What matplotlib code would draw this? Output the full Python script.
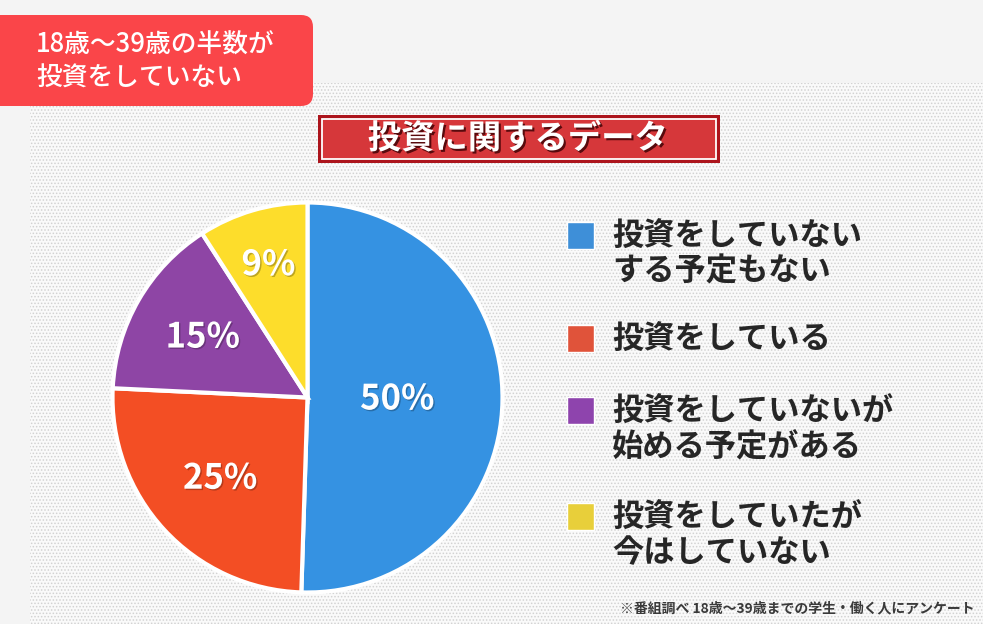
import matplotlib
matplotlib.use("Agg")
import matplotlib.pyplot as plt
from matplotlib.patches import Rectangle, FancyBboxPatch
import matplotlib.patheffects as pe
import numpy as np

plt.rcParams['font.family'] = ['Noto Sans CJK JP', 'DejaVu Sans']

# data
categories = ['投資をしていない\nする予定もない', '投資をしている',
              '投資をしていないが\n始める予定がある', '投資をしていたが\n今はしていない']
shares = [50, 25, 15, 9]
pie_colors = ['#3592E2', '#F34E24', '#8E45A5', '#FDDD2B']
legend_colors = ['#3E8FD8', '#E0533A', '#8E44AD', '#E8CF3A']
tag_lines = '18歳〜39歳の半数が\n投資をしていない'
title = '投資に関するデータ'
note = '※番組調べ 18歳〜39歳までの学生・働く人にアンケート'

W, H = 983, 624
fig = plt.figure(figsize=(W / 100, H / 100), dpi=100)
fig.patch.set_facecolor('#F4F4F4')

# page layer in pixel coordinates
bg = fig.add_axes([0, 0, 1, 1])
bg.set_xlim(0, W)
bg.set_ylim(H, 0)
bg.axis('off')

plt.rcParams['hatch.linewidth'] = 0.7
bg.add_patch(Rectangle((30, 83), W - 30, H - 83, facecolor='#FAFAFA',
                       edgecolor='#D2D2D2', hatch='.....', linewidth=0, zorder=1))

# red tag top-left
bg.add_patch(FancyBboxPatch((-30, 15), 343, 91, boxstyle='round,pad=0,rounding_size=12',
                            facecolor='#FA4549', edgecolor='none', zorder=3))
bg.text(36, 62, tag_lines, color='white', fontsize=18.5, fontweight='medium',
        va='center', ha='left', linespacing=1.3, zorder=4)

# title banner
bg.add_patch(Rectangle((318, 115), 402, 48, facecolor='#AC141C', edgecolor='none', zorder=3))
bg.add_patch(Rectangle((322, 119), 394, 40, facecolor='#D6373A', edgecolor='white',
                       linewidth=1.3, zorder=4))
bg.text(518, 139, title, color='white', fontsize=24, fontweight='bold', ha='center',
        va='center', zorder=5,
        path_effects=[pe.withSimplePatchShadow(offset=(1.5, -1.5), shadow_rgbFace='#4a0508',
                                               alpha=0.9)])

# legend
legend_y = [236, 339, 411, 517]
for cat, col, y in zip(categories, legend_colors, legend_y):
    bg.add_patch(Rectangle((567, y - 14), 27, 27, facecolor=col, edgecolor='white',
                           linewidth=1, zorder=3))
    for i, line in enumerate(cat.split('\n')):
        bg.text(612, y + 1 + i * 35, line, fontsize=22.5, fontweight='bold',
                color='#262626', ha='left', va='center', zorder=3)

bg.text(975, 608, note, fontsize=10, fontweight='bold', color='#3a3a3a',
        ha='right', va='center', zorder=3)

# pie
cx, cy, r = 307.5, 397.5, 195
pax = fig.add_axes([(cx - r) / W, (H - cy - r) / H, 2 * r / W, 2 * r / H])
pax.set_facecolor('none')
wedges, _ = pax.pie(shares, colors=pie_colors, startangle=90, counterclock=False,
                    wedgeprops=dict(edgecolor='white', linewidth=3))
pax.set_xlim(-1.0, 1.0)
pax.set_ylim(-1.0, 1.0)
pax.set_aspect('equal')
pax.axis('off')

label_dist = [0.46, 0.61, 0.62, 0.71]
for w, v, d in zip(wedges, shares, label_dist):
    ang = np.deg2rad((w.theta1 + w.theta2) / 2)
    pax.text(d * np.cos(ang), d * np.sin(ang), f'{v}%', color='white', fontsize=25,
             fontweight='bold', ha='center', va='center',
             path_effects=[pe.withSimplePatchShadow(offset=(1, -1), shadow_rgbFace='#000000',
                                                    alpha=0.25)])

fig.savefig('out.png', dpi=100, facecolor=fig.get_facecolor())
